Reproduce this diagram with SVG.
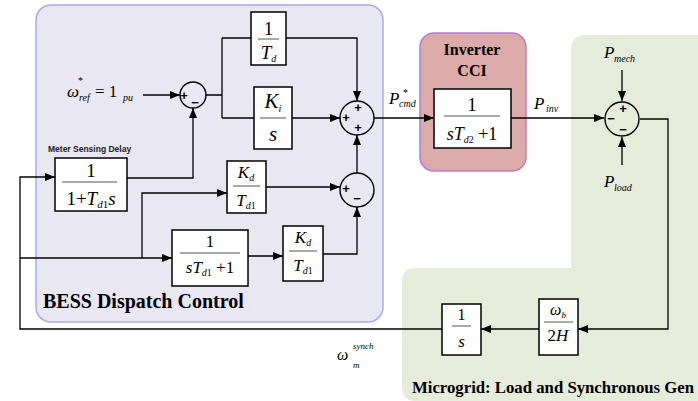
<svg xmlns="http://www.w3.org/2000/svg" width="698" height="401" viewBox="0 0 698 401">
<defs>
<marker id="arr" markerUnits="userSpaceOnUse" markerWidth="10" markerHeight="8" refX="10" refY="4" orient="auto">
<path d="M0,0 L10,4 L0,8 z" fill="#000"/>
</marker>
<style>
.blk{fill:#fff;stroke:#000;stroke-width:1.5}
.sum{fill:none;stroke:#000;stroke-width:1.4}
.ln{fill:none;stroke:#000;stroke-width:1.3}
.ar{fill:none;stroke:#000;stroke-width:1.3;marker-end:url(#arr)}
.fl{stroke:#555;stroke-width:1}
.t{font-family:"Liberation Serif","Times New Roman",serif;fill:#000}
.i{font-style:italic}
.sg{font-family:"Liberation Sans",Arial,sans-serif;font-weight:bold;fill:#000;font-size:13px;text-anchor:middle}
.ttl{font-family:"Liberation Serif","Times New Roman",serif;font-weight:bold;fill:#000}
</style>
</defs>
<rect width="698" height="401" fill="#fff"/>
<g id="bess-panel">
<rect x="36" y="5" width="347" height="317" rx="15" fill="#e9e7f1" stroke="#a9a9ee" stroke-width="1.5"/>
<text class="ttl" x="43" y="308" font-size="20">BESS Dispatch Control</text>
<text x="48" y="152" font-family="'Liberation Sans',Arial,sans-serif" font-weight="bold" font-size="8.5" fill="#222">Meter Sensing Delay</text>
</g>
<g id="inverter-panel">
<rect x="420" y="33" width="106" height="138" rx="14" fill="#dcaaa8" stroke="#b47fc7" stroke-width="1.5"/>
<text class="ttl" x="472" y="55" font-size="16" text-anchor="middle">Inverter</text>
<text class="ttl" x="472" y="76" font-size="16" text-anchor="middle">CCI</text>
</g>
<g id="microgrid-panel">
<path d="M586,35 H698 V401 H416 Q402,401 402,387 V282 Q402,268 416,268 H571 V50 Q571,35 586,35 Z" fill="#e6ecda"/>
<text class="ttl" x="412" y="393" font-size="17" textLength="282" lengthAdjust="spacingAndGlyphs">Microgrid: Load and Synchronous Gen</text>
</g>
<g id="connectors">
<path class="ar" d="M143,95 H180"/>
<path class="ln" d="M206,95 H222 M222,38 V118 M222,38 H251 M222,118 H254"/>
<path class="ar" d="M286,38 H357 V101"/>
<path class="ar" d="M292,118 H340"/>
<path class="ar" d="M357,173 V135"/>
<path class="ar" d="M374,118 H434"/>
<path class="ar" d="M266,187 H340"/>
<path class="ar" d="M323,254 H357 V207"/>
<path class="ar" d="M248,256 H283"/>
<path class="ar" d="M127,178 H193 V108"/>
<path class="ar" d="M442,329 H20 V177 H55"/>
<path class="ar" d="M20,258 H172"/>
<path class="ar" d="M142,258 V193 H227"/>
<path class="ar" d="M511,118 H604"/>
<path class="ar" d="M622,70 V101"/>
<path class="ar" d="M622,165 V137"/>
<path class="ar" d="M640,119 H668 V329 H578"/>
<path class="ar" d="M539,329 H481"/>
</g>
<g id="ref-label">
<text class="t" font-size="17"><tspan class="i" x="67" y="97">ω</tspan><tspan x="78" y="84" font-size="10">*</tspan><tspan class="i" x="79" y="101" font-size="10">ref</tspan><tspan x="95" y="97">= 1</tspan><tspan class="i" x="123" y="101" font-size="10">pu</tspan></text>
</g>
<g id="sum1">
<circle class="sum" cx="193" cy="95" r="13"/>
<text class="sg" x="184" y="100">+</text>
<text class="sg" x="195" y="107">−</text>
</g>
<g id="block-1-Td">
<rect class="blk" x="251" y="12" width="35" height="53"/>
<text class="t" x="268.5" y="35" font-size="19" text-anchor="middle">1</text>
<line class="fl" x1="258" y1="39" x2="279" y2="39"/>
<text class="t" x="268.5" y="59" font-size="19" text-anchor="middle"><tspan class="i">T</tspan><tspan class="i" font-size="10" dy="3">d</tspan></text>
</g>
<g id="block-Ki-s">
<rect class="blk" x="254" y="87" width="38" height="62"/>
<text class="t" x="273" y="108" font-size="21" text-anchor="middle"><tspan class="i">K</tspan><tspan class="i" font-size="10" dy="4">i</tspan></text>
<line class="fl" x1="260" y1="118" x2="286" y2="118"/>
<text class="t i" x="273" y="141" font-size="21" text-anchor="middle">s</text>
</g>
<g id="sum-main">
<circle class="sum" cx="357" cy="118" r="17"/>
<text class="sg" x="358" y="112">+</text>
<text class="sg" x="346" y="122">+</text>
<text class="sg" x="358" y="132">+</text>
</g>
<g id="sum-deriv">
<circle class="sum" cx="357" cy="190" r="17"/>
<text class="sg" x="346" y="193">+</text>
<text class="sg" x="357" y="203">−</text>
</g>
<g id="block-meter">
<rect class="blk" x="55" y="158" width="72" height="53"/>
<text class="t" x="91" y="177" font-size="19" text-anchor="middle">1</text>
<line class="fl" x1="62" y1="182" x2="117" y2="182"/>
<text class="t" x="91" y="205" font-size="19" text-anchor="middle">1+<tspan class="i">T</tspan><tspan class="i" font-size="11" dy="3">d</tspan><tspan font-size="11">1</tspan><tspan class="i" dy="-3">s</tspan></text>
</g>
<g id="block-Kd-Td1-a">
<rect class="blk" x="227" y="161" width="39" height="52"/>
<text class="t" x="246" y="178" font-size="17" text-anchor="middle"><tspan class="i">K</tspan><tspan class="i" font-size="10" dy="3">d</tspan></text>
<line class="fl" x1="233" y1="186" x2="260" y2="186"/>
<text class="t" x="246" y="206" font-size="17" text-anchor="middle"><tspan class="i">T</tspan><tspan class="i" font-size="10" dy="3">d</tspan><tspan font-size="10">1</tspan></text>
</g>
<g id="block-lowpass">
<rect class="blk" x="172" y="230" width="76" height="56"/>
<text class="t" x="210" y="247" font-size="17" text-anchor="middle">1</text>
<line class="fl" x1="180" y1="253" x2="240" y2="253"/>
<text class="t" x="210" y="273" font-size="17" text-anchor="middle"><tspan class="i">sT</tspan><tspan class="i" font-size="10" dy="3">d</tspan><tspan font-size="10">1</tspan><tspan dy="-3"> +1</tspan></text>
</g>
<g id="block-Kd-Td1-b">
<rect class="blk" x="283" y="226" width="40" height="55"/>
<text class="t" x="303" y="243" font-size="17" text-anchor="middle"><tspan class="i">K</tspan><tspan class="i" font-size="10" dy="3">d</tspan></text>
<line class="fl" x1="289" y1="251" x2="317" y2="251"/>
<text class="t" x="303" y="271" font-size="17" text-anchor="middle"><tspan class="i">T</tspan><tspan class="i" font-size="10" dy="3">d</tspan><tspan font-size="10">1</tspan></text>
</g>
<g id="pcmd-label">
<text class="t" font-size="17"><tspan class="i" x="389" y="104">P</tspan><tspan x="403" y="96" font-size="10">*</tspan><tspan class="i" x="399" y="107" font-size="10">cmd</tspan></text>
</g>
<g id="block-inverter">
<rect class="blk" x="434" y="89" width="77" height="59"/>
<text class="t" x="472" y="111" font-size="18" text-anchor="middle">1</text>
<line class="fl" x1="444" y1="116" x2="500" y2="116"/>
<text class="t" x="472" y="140" font-size="18" text-anchor="middle"><tspan class="i">sT</tspan><tspan class="i" font-size="10" dy="3">d</tspan><tspan font-size="10">2</tspan><tspan dy="-3"> +1</tspan></text>
</g>
<g id="pinv-label">
<text class="t" font-size="17"><tspan class="i" x="534" y="109">P</tspan><tspan class="i" x="546" y="112" font-size="10">inv</tspan></text>
</g>
<g id="pmech-label">
<text class="t" font-size="17"><tspan class="i" x="604" y="58">P</tspan><tspan class="i" x="614" y="62" font-size="10">mech</tspan></text>
</g>
<g id="pload-label">
<text class="t" font-size="17"><tspan class="i" x="604" y="187">P</tspan><tspan class="i" x="614" y="191" font-size="10">load</tspan></text>
</g>
<g id="sum-power">
<circle class="sum" cx="622" cy="119" r="17"/>
<text class="sg" x="623" y="113">+</text>
<text class="sg" x="611" y="123">−</text>
<text class="sg" x="623" y="134">−</text>
</g>
<g id="block-wb-2H">
<rect class="blk" x="539" y="299" width="39" height="56"/>
<text class="t" x="558" y="315" font-size="16" text-anchor="middle"><tspan class="i">ω</tspan><tspan class="i" font-size="9" dy="3">b</tspan></text>
<line class="fl" x1="544" y1="322" x2="573" y2="322"/>
<text class="t" x="558" y="341" font-size="17" text-anchor="middle">2<tspan class="i">H</tspan></text>
</g>
<g id="block-integrator">
<rect class="blk" x="442" y="304" width="39" height="51"/>
<text class="t" x="461.5" y="320" font-size="16" text-anchor="middle">1</text>
<line class="fl" x1="452" y1="326" x2="471" y2="326"/>
<text class="t i" x="461.5" y="347" font-size="17" text-anchor="middle">s</text>
</g>
<g id="wm-label">
<text class="t" font-size="16"><tspan class="i" x="337" y="360">ω</tspan><tspan class="i" x="353" y="349" font-size="9">synch</tspan><tspan class="i" x="353" y="368" font-size="9">m</tspan></text>
</g>
</svg>
